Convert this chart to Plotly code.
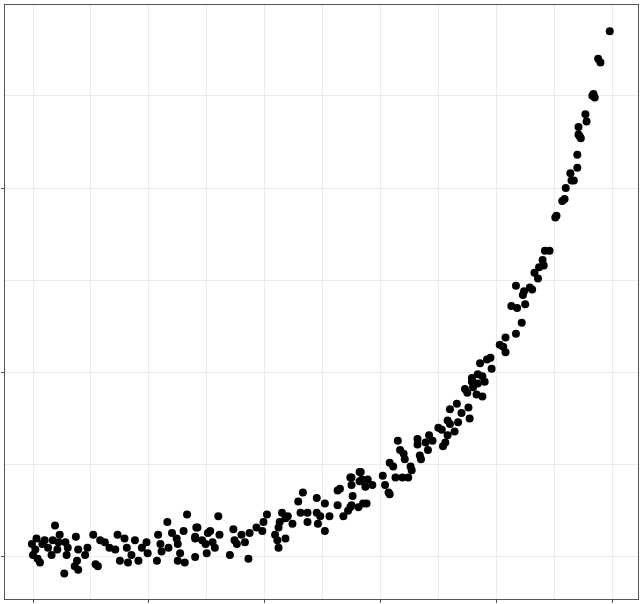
import plotly.graph_objects as go

# values (axis labels are not shown in it)
x_vals = [
    0.19, 0.03, 0.10, -0.01, 0.02, 0.00, 0.04, 0.06, 0.08, 0.13,
    0.17, 0.22, 0.23, 0.21, 0.16, 0.28, 0.30, 0.29, 0.37, 0.39,
    0.38, 0.36, 0.39, 0.27, 0.47, 0.45, 0.52, 0.54, 0.56, 0.58,
    0.62, 0.66, 0.71, 0.73, 0.79, 0.75, 0.81, 0.85, 0.82, 0.88,
    0.91, 0.94, 0.98, 0.99, 1.07, 1.08, 1.10, 1.11, 1.16, 1.17,
    1.20, 1.24, 1.25, 1.27, 1.25, 1.30, 1.31, 1.33, 1.40, 1.41,
    1.40,
    1.42, 1.40, 1.46, 1.49, 1.51, 1.53, 1.55, 1.57, 1.50, 1.60,
    1.61, 1.70, 1.73, 1.74, 1.76, 1.80, 1.83, 1.86, 1.87, 1.93,
    1.98, 1.99, 2.02, 2.09, 2.11, 2.12, 2.12, 2.13, 2.15, 2.18,
    2.18, 2.20, 2.24, 2.29, 2.31, 2.33, 2.37, 2.37, 2.45, 2.45,
    2.46, 2.48, 2.52, 2.52, 2.56, 2.63, 2.63, 2.68, 2.72, 2.75,
    2.75, 2.75, 2.76, 2.81, 2.82, 2.83, 2.87, 2.88, 2.89, 2.93,
    2.65, 2.74, 2.82, 2.84, 2.74, 2.85, 3.02, 3.04, 3.07, 3.08,
    3.08, 3.11, 3.13, 3.19, 3.15, 3.17, 3.20, 3.21, 3.24, 3.26,
    3.27, 3.32, 3.32, 3.34, 3.35, 3.39, 3.41, 3.42, 3.45, 3.50,
    3.53, 3.54, 3.56, 3.58, 3.58, 3.60, 3.60, 3.64, 3.66, 3.67,
    3.70, 3.73, 3.75, 3.76, 3.77, 3.79, 3.80, 3.83, 3.84, 3.88,
    3.88, 3.90, 3.86, 3.96,
    3.79, 3.84, 3.92, 3.95, 4.03, 4.06, 4.08, 4.08, 4.17, 4.22,
    4.13, 4.18, 4.25, 4.23, 4.24, 4.17, 4.29, 4.31, 4.33, 4.36,
    4.37, 4.40, 4.41, 4.42, 4.46, 4.51, 4.52,
    4.57, 4.59, 4.60, 4.64, 4.65, 4.67, 4.70, 4.70, 4.71, 4.72,
    4.71, 4.73, 4.77, 4.78, 4.83, 4.85, 4.84, 4.88, 4.90, 4.98,
]
y_vals = [
    0.17, 0.10, 0.09, 0.07, 0.04, 0.01, -0.01, -0.03, 0.07, 0.05,
    0.09, 0.08, 0.12, 0.04, 0.01, 0.08, 0.05, 0.01, 0.11, 0.04,
    -0.02, -0.05, -0.07, -0.09, 0.05, 0.01, 0.12, -0.04, -0.05, 0.09,
    0.08, 0.05, 0.04, 0.12, 0.10, -0.02, 0.05, 0.01, -0.03, 0.09,
    -0.02, 0.05, 0.08, 0.02, -0.02, 0.12, 0.07, 0.03, 0.19, 0.05,
    0.13, 0.10, 0.07, 0.02, -0.02, 0.14, -0.03, 0.23, 0.11, 0.16,
    0.00,
    0.16, 0.10, 0.09, 0.07, 0.13, 0.14, 0.08, 0.05, 0.02, 0.22,
    0.12, 0.01, 0.15, 0.09, 0.07, 0.12, 0.08, -0.01, 0.13, 0.16,
    0.14, 0.19, 0.23, 0.12, 0.09, 0.05, 0.16, 0.19, 0.24, 0.21,
    0.10, 0.22, 0.18, 0.30, 0.24, 0.35, 0.19, 0.24, 0.32, 0.24,
    0.18, 0.22, 0.29, 0.14, 0.22, 0.28, 0.36, 0.22, 0.25, 0.28,
    0.43, 0.39, 0.33, 0.27, 0.41, 0.46, 0.38, 0.29, 0.42, 0.39,
    0.37, 0.43, 0.46, 0.42, 0.27, 0.29, 0.44, 0.39, 0.35, 0.34,
    0.51, 0.49, 0.43, 0.43, 0.63, 0.58, 0.56, 0.53, 0.43, 0.49,
    0.47, 0.61, 0.64, 0.55, 0.53, 0.62, 0.58, 0.66, 0.63, 0.70,
    0.69, 0.60, 0.62, 0.74, 0.66, 0.72, 0.80, 0.68, 0.83, 0.73,
    0.78, 0.91, 0.89, 0.81, 0.75, 0.95, 0.92, 0.88, 0.94, 0.87,
    0.98, 0.95, 1.05, 1.02,
    0.97, 0.99, 1.07, 1.08, 1.15, 1.14, 1.19, 1.11, 1.21, 1.27,
    1.36, 1.35, 1.37, 1.42, 1.44, 1.47, 1.46, 1.45, 1.54, 1.51,
    1.57, 1.61, 1.58, 1.66, 1.66, 1.84, 1.85,
    1.93, 1.94, 2.00, 2.08, 2.04, 2.04, 2.11, 2.18, 2.29, 2.28,
    2.33, 2.27, 2.40, 2.36, 2.50, 2.49, 2.51, 2.70, 2.68, 2.85,
]

grid_col = "#ebebeb"
frame_col = "#555555"

fig = go.Figure(go.Scatter(
    x=x_vals,
    y=y_vals,
    mode="markers",
    marker=dict(color="black", size=8, line=dict(width=0)),
    hoverinfo="x+y",
))

axis_common = dict(
    showline=True,
    linecolor=frame_col,
    linewidth=1,
    mirror=True,
    ticks="outside",
    ticklen=3,
    tickwidth=1,
    tickcolor=frame_col,
    showticklabels=False,
    showgrid=True,
    gridcolor=grid_col,
    gridwidth=1,
    zeroline=False,
)

fig.update_xaxes(
    range=[-0.242, 5.224],
    dtick=1,
    tick0=0,
    minor=dict(dtick=0.5, tick0=0, showgrid=True, gridcolor=grid_col, gridwidth=0.6, ticks=""),
    **axis_common,
)
fig.update_yaxes(
    range=[-0.228, 2.992],
    dtick=1,
    tick0=0,
    minor=dict(dtick=0.5, tick0=0, showgrid=True, gridcolor=grid_col, gridwidth=0.6, ticks=""),
    **axis_common,
)

fig.update_layout(
    width=640,
    height=604,
    margin=dict(l=5, r=2, t=5, b=5, pad=0),
    plot_bgcolor="white",
    paper_bgcolor="white",
    showlegend=False,
)

# drop the browser's default body margin so the figure sits at the page corner
fig.write_html(
    "out.html",
    config={"displayModeBar": False},
    post_script="document.body.style.margin = '0';",
)
